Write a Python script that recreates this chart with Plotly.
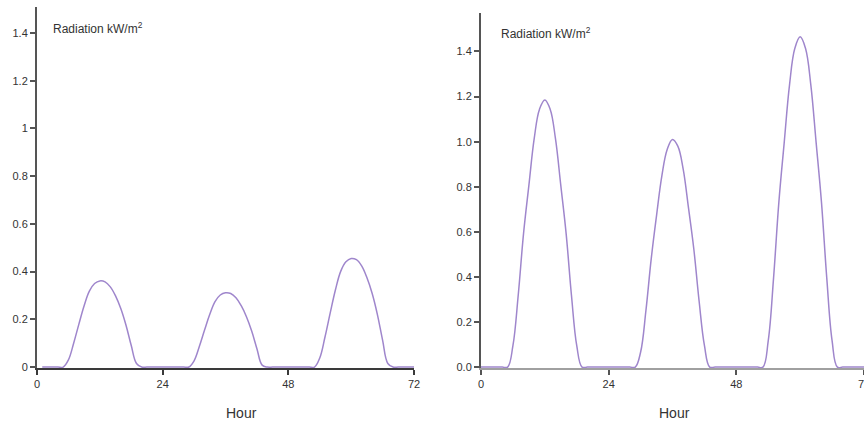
import plotly.graph_objects as go

# ---------------- data ----------------
hours_left = list(range(1, 73))
radiation_left = [
    0, 0, 0, 0, 0, 0.03, 0.10, 0.18, 0.257, 0.318, 0.35, 0.361,          # 1-12
    0.357, 0.336, 0.298, 0.245, 0.175, 0.09, 0.015, 0, 0, 0, 0, 0,       # 13-24
    0, 0, 0, 0, 0, 0.026, 0.086, 0.155, 0.221, 0.274, 0.302, 0.311,      # 25-36
    0.308, 0.290, 0.257, 0.211, 0.151, 0.077, 0.008, 0, 0, 0, 0, 0,      # 37-48
    0, 0, 0, 0, 0, 0.038, 0.126, 0.227, 0.324, 0.401, 0.441, 0.455,      # 49-60
    0.450, 0.424, 0.375, 0.309, 0.221, 0.113, 0.015, 0, 0, 0, 0, 0,      # 61-72
]

hours_right = list(range(0, 73))
radiation_right = [
    0,                                                                    # 0
    0, 0, 0, 0, 0, 0.095, 0.32, 0.593, 0.806, 1.013, 1.144, 1.185,        # 1-12
    1.144, 1.013, 0.806, 0.593, 0.32, 0.095, 0, 0, 0, 0, 0, 0,            # 13-24
    0, 0, 0, 0, 0, 0.066, 0.25, 0.48, 0.672, 0.848, 0.965, 1.01,          # 25-36
    0.98, 0.879, 0.707, 0.525, 0.293, 0.096, 0, 0, 0, 0, 0, 0,            # 37-48
    0, 0, 0, 0, 0, 0.117, 0.396, 0.733, 0.996, 1.252, 1.414, 1.465,       # 49-60
    1.414, 1.252, 0.996, 0.733, 0.396, 0.117, 0, 0, 0, 0, 0, 0,           # 61-72
]

x_ticks = [0, 24, 48, 72]
y_ticks = [0, 0.2, 0.4, 0.6, 0.8, 1.0, 1.2, 1.4]
y_label = "Radiation kW/m<sup>2</sup>"
x_label = "Hour"

# ---------------- figure ----------------
W, H = 864, 424
LINE = "#9f86cc"
FAM = "Liberation Sans, Arial, sans-serif"
FONT = dict(family=FAM, size=11, color="#333333")

fig = go.Figure()
fig.add_trace(go.Scatter(x=hours_left, y=radiation_left, mode="lines",
                         line=dict(color=LINE, width=1.5, shape="spline", smoothing=1.1),
                         xaxis="x", yaxis="y", showlegend=False))
fig.add_trace(go.Scatter(x=hours_right, y=radiation_right, mode="lines",
                         line=dict(color=LINE, width=1.5, shape="spline", smoothing=1.1),
                         xaxis="x2", yaxis="y2", showlegend=False))

def px_x(p):
    return p / W

def px_y(p):
    return 1 - p / H

common_x = dict(tickvals=x_ticks, ticks="outside", ticklen=5, tickwidth=1.5,
                showgrid=False, zeroline=False, showline=True, linewidth=2,
                tickfont=FONT, range=[0, 72], automargin=False,
                layer="below traces", fixedrange=True,
                ticklabeloverflow="allow")
common_y = dict(tickvals=y_ticks, ticks="outside", ticklen=5, tickwidth=1.5,
                showgrid=False, zeroline=False, showline=True, linewidth=2,
                tickfont=FONT, automargin=False, layer="below traces",
                fixedrange=True)

fig.update_layout(
    width=W, height=H,
    margin=dict(l=0, r=0, t=0, b=0),
    paper_bgcolor="white", plot_bgcolor="white",
    xaxis=dict(**common_x, domain=[px_x(37), px_x(414)], anchor="y",
               linecolor="#3a3a3a", tickcolor="#3a3a3a"),
    yaxis=dict(**common_y, domain=[px_y(368), px_y(7)], anchor="x",
               range=[-0.004, 1.509], tickformat="~g",
               linecolor="#555555", tickcolor="#555555"),
    xaxis2=dict(**common_x, domain=[px_x(481), 1.0], anchor="y2",
                linecolor="#a0a0a0", tickcolor="#555555"),
    yaxis2=dict(**common_y, domain=[px_y(368), px_y(12.7)], anchor="x2",
                range=[-0.004, 1.572], tickformat=".1f",
                linecolor="#555555", tickcolor="#555555"),
    annotations=[
        dict(text=y_label, x=px_x(51), y=px_y(28), xref="paper", yref="paper",
             xanchor="left", yanchor="middle", showarrow=False,
             font=dict(family=FAM, size=12, color="#333333")),
        dict(text=y_label, x=px_x(499), y=px_y(33), xref="paper", yref="paper",
             xanchor="left", yanchor="middle", showarrow=False,
             font=dict(family=FAM, size=12, color="#333333")),
        dict(text=x_label, x=px_x(241), y=px_y(413), xref="paper", yref="paper",
             xanchor="center", yanchor="middle", showarrow=False,
             font=dict(family=FAM, size=14, color="#333333")),
        dict(text=x_label, x=px_x(674), y=px_y(413), xref="paper", yref="paper",
             xanchor="center", yanchor="middle", showarrow=False,
             font=dict(family=FAM, size=14, color="#333333")),
    ],
)

fig.write_html(
    "out.html",
    config={"displayModeBar": False},
    post_script="document.body.style.margin='0';document.body.style.padding='0';",
)
